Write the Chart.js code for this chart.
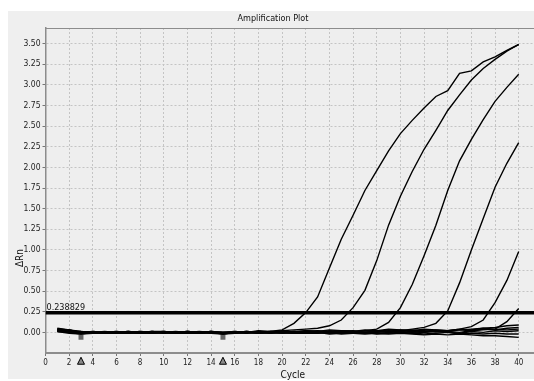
<!DOCTYPE html>
<html>
<head>
<meta charset="utf-8">
<script src="https://cdn.jsdelivr.net/npm/chart.js@4"></script>
<style>
html, body { margin: 0; padding: 0; background: #fff; overflow: hidden; }
#wrap { position: absolute; left: 0; top: 0; width: 548px; height: 381px; }
</style>
</head>
<body>
<div id="wrap"><canvas id="chart_canvas"></canvas></div>
<script>
// cycles 1..40
const cycles = [1,2,3,4,5,6,7,8,9,10,11,12,13,14,15,16,17,18,19,20,
                21,22,23,24,25,26,27,28,29,30,31,32,33,34,35,36,37,38,39,40];

// amplifying wells
const wellA = [0.04,0.03,0.00,-0.01,0.00,0.01,-0.01,0.00,0.01,0.00,-0.01,0.00,0.01,0.00,-0.02,0.00,0.01,0.00,0.01,0.03,
               0.11,0.24,0.43,0.78,1.13,1.42,1.72,1.96,2.20,2.41,2.57,2.72,2.86,2.93,3.14,3.17,3.28,3.34,3.42,3.49];
const wellB = [0.02,0.01,-0.01,0.00,0.01,0.00,0.00,-0.01,0.01,0.01,0.00,-0.01,0.00,0.01,0.00,-0.01,0.00,0.02,0.01,0.02,
               0.03,0.04,0.05,0.08,0.15,0.30,0.51,0.87,1.30,1.65,1.95,2.22,2.45,2.69,2.88,3.06,3.20,3.31,3.41,3.49];
const wellC = [0.03,0.02,0.00,0.00,-0.01,0.00,0.01,0.00,-0.01,0.00,0.01,0.00,-0.01,0.00,0.00,0.01,0.00,-0.01,0.00,0.01,
               0.00,0.01,0.02,0.01,0.02,0.01,0.02,0.04,0.12,0.30,0.58,0.93,1.30,1.72,2.08,2.34,2.58,2.80,2.97,3.13];
const wellD = [0.01,0.00,-0.01,0.01,0.00,-0.01,0.00,0.01,0.00,0.00,-0.01,0.01,0.00,0.00,-0.01,0.00,0.01,0.00,0.00,-0.01,
               0.00,0.01,0.00,0.02,0.01,0.00,0.02,0.01,0.03,0.02,0.04,0.06,0.11,0.26,0.60,1.00,1.38,1.76,2.05,2.30];
const wellE = [0.02,0.01,0.00,-0.01,0.00,0.00,0.01,-0.01,0.00,0.01,0.00,0.00,-0.01,0.01,0.00,0.00,-0.01,0.01,0.00,0.00,
               0.01,0.00,0.01,0.00,0.02,0.01,0.00,0.02,0.01,0.03,0.02,0.01,0.03,0.02,0.04,0.07,0.15,0.36,0.63,0.98];
const wellF = [0.05,0.03,0.01,0.00,-0.01,0.00,0.01,0.00,-0.01,0.00,0.00,0.01,0.00,-0.01,0.00,0.01,0.00,0.00,0.01,0.00,
               -0.01,0.00,0.01,0.00,-0.01,0.01,0.00,0.01,0.00,0.02,0.01,0.00,0.02,0.01,0.03,0.02,0.03,0.04,0.13,0.29];

// flat wells (no amplification)
const wellG = [0.03,0.02,0.01,0.00,0.00,-0.01,0.00,0.01,0.00,-0.01,0.00,0.01,0.00,0.00,-0.01,0.00,0.00,0.01,0.00,0.01,
               0.00,0.02,0.01,0.00,0.01,0.02,0.00,0.01,0.02,0.01,0.03,0.02,0.01,0.02,0.03,0.04,0.05,0.06,0.08,0.09];
const wellH = [0.04,0.02,-0.01,-0.01,0.00,0.00,-0.01,0.00,0.00,0.01,-0.01,0.00,0.00,0.01,-0.02,0.00,0.00,-0.01,0.00,0.00,
               0.01,0.00,-0.01,0.01,0.00,0.00,-0.01,0.01,0.00,0.01,0.00,0.01,0.02,0.01,0.00,0.02,0.04,0.03,0.05,0.06];
const wellI = [0.02,0.00,-0.02,0.00,-0.01,0.00,0.00,-0.01,0.00,0.00,-0.01,0.00,-0.01,0.00,-0.01,-0.01,0.00,0.00,-0.01,0.00,
               -0.01,0.00,0.00,-0.01,0.00,0.01,-0.01,0.00,0.01,0.00,-0.01,0.00,0.01,0.00,-0.01,0.01,0.00,0.02,0.01,0.02];
const wellJ = [0.01,-0.01,-0.02,-0.01,0.00,-0.01,-0.01,0.00,-0.01,0.00,-0.01,-0.01,0.00,-0.01,-0.02,-0.01,0.00,-0.01,0.00,-0.01,
               0.00,-0.01,-0.01,0.00,-0.02,-0.01,0.00,-0.02,-0.01,0.00,-0.01,-0.02,-0.01,0.00,-0.02,-0.01,-0.02,-0.01,-0.02,-0.02];
const wellK = [0.03,0.01,-0.01,0.00,-0.01,-0.01,0.00,-0.01,0.00,-0.01,0.00,-0.01,-0.01,0.00,-0.01,0.00,-0.01,0.00,-0.01,0.00,
               -0.01,-0.01,0.00,-0.02,-0.01,-0.01,-0.02,-0.01,-0.02,-0.01,-0.02,-0.03,-0.02,-0.03,-0.02,-0.03,-0.04,-0.04,-0.05,-0.06];
const wellL = [0.04,0.03,0.00,0.01,0.00,0.01,0.00,0.00,0.01,0.00,0.00,0.01,0.00,0.01,0.00,0.00,0.01,0.00,0.01,0.00,
               0.01,0.02,0.01,0.03,0.02,0.01,0.03,0.02,0.04,0.03,0.02,0.04,0.03,0.02,0.04,0.03,0.05,0.04,0.03,0.04];

const wells = [wellA, wellB, wellC, wellD, wellE, wellF, wellG, wellH, wellI, wellJ, wellK, wellL];

const threshold = 0.238829;
const baselineCycles = [3, 15];      // baseline start / end
const baselineMarkY = [-0.06, -0.06];
const triangleY = [-0.35, -0.35];

const xTickValues = [0,2,4,6,8,10,12,14,16,18,20,22,24,26,28,30,32,34,36,38,40];
const yTickValues = [0,0.25,0.5,0.75,1,1.25,1.5,1.75,2,2.25,2.5,2.75,3,3.25,3.5];

const xMin = 0, xMax = 41.8;
const yMin = -0.25, yMax = 3.69;

const fontFamily = "'Liberation Sans Narrow', 'DejaVu Sans Condensed', 'Liberation Sans', sans-serif";

var datasets = wells.map(function(w)
{
  return {
    data: w,
    borderColor: "#000000",
    borderWidth: 1.4,
    pointRadius: 0,
    tension: 0,
    fill: false
  };
});

datasets.push({
  data: [{x: xMin, y: threshold}, {x: xMax, y: threshold}],
  borderColor: "#000000",
  borderWidth: 3.5,
  pointRadius: 0
});

datasets.push({
  data: baselineCycles.map((c, i) => ({x: c, y: baselineMarkY[i]})),
  showLine: false,
  pointStyle: "rect",
  pointRadius: 3.5,
  backgroundColor: "#666666",
  borderColor: "#666666",
  borderWidth: 0
});

const panelPlugin =
{
  id: "panel",
  beforeDraw(chart)
  {
    const ctx = chart.ctx;
    const a = chart.chartArea;
    ctx.save();
    ctx.fillStyle = "#ffffff";
    ctx.fillRect(0, 0, chart.width, chart.height);
    ctx.fillStyle = "#efefef";
    ctx.fillRect(8, 11, chart.width - 8, chart.height - 13);
    ctx.fillStyle = "#eeeeee";
    ctx.fillRect(a.left, a.top, a.right - a.left, a.bottom - a.top);
    ctx.restore();
  },
  afterDraw(chart)
  {
    const ctx = chart.ctx;
    const a = chart.chartArea;
    const xS = chart.scales.x;
    const yS = chart.scales.y;
    ctx.save();
    // top and right border
    ctx.strokeStyle = "#8c8c8c";
    ctx.lineWidth = 1;
    ctx.beginPath();
    ctx.moveTo(a.left, a.top + 0.5);
    ctx.lineTo(a.right, a.top + 0.5);
    ctx.lineTo(a.right, a.bottom);
    ctx.stroke();

    // baseline range triangles under the axis
    ctx.fillStyle = "#8a8a8a";
    ctx.strokeStyle = "#000000";
    ctx.lineWidth = 1;
    baselineCycles.forEach(function(c, i)
    {
      const px = xS.getPixelForValue(c);
      const py = yS.getPixelForValue(triangleY[i]);
      ctx.beginPath();
      ctx.moveTo(px, py - 4);
      ctx.lineTo(px + 3.5, py + 3);
      ctx.lineTo(px - 3.5, py + 3);
      ctx.closePath();
      ctx.fill();
      ctx.stroke();
    });

    ctx.fillStyle = "#111111";
    ctx.textAlign = "center";
    ctx.textBaseline = "middle";
    ctx.font = "9px " + fontFamily;
    ctx.fillText("Amplification Plot", 273, 19);

    ctx.font = "10px " + fontFamily;
    ctx.fillText("Cycle", (a.left + a.right) / 2, 375);

    ctx.save();
    ctx.translate(20, 258);
    ctx.rotate(-Math.PI / 2);
    ctx.fillText("\u0394Rn", 0, 0);
    ctx.restore();

    ctx.textAlign = "left";
    ctx.textBaseline = "alphabetic";
    ctx.font = "9px " + fontFamily;
    ctx.fillText(threshold.toFixed(6), a.left + 1, yS.getPixelForValue(threshold) - 3);
    ctx.restore();
  }
};

const config =
{
  type: "line",
  data: { labels: cycles, datasets: datasets },
  options:
  {
    responsive: true,
    maintainAspectRatio: false,
    animation: false,
    layout: { padding: { top: 28, right: 8, left: 0, bottom: 0 } },
    plugins:
    {
      legend: { display: false },
      tooltip: { enabled: false }
    },
    scales:
    {
      x:
      {
        type: "linear",
        min: xMin,
        max: xMax,
        afterBuildTicks: (s) => { s.ticks = xTickValues.map(v => ({value: v})); },
        afterFit: (s) => { s.height = 28; },
        grid: { color: "#c4c4c4", tickColor: "#777777", tickLength: 3 },
        border: { display: true, color: "#8c8c8c", width: 2, dash: [2, 2] },
        ticks:
        {
          color: "#222222",
          padding: 2,
          maxRotation: 0,
          autoSkip: false,
          font: { family: fontFamily, size: 8 },
          callback: (v) => String(v)
        }
      },
      y:
      {
        min: yMin,
        max: yMax,
        afterBuildTicks: (s) => { s.ticks = yTickValues.map(v => ({value: v})); },
        afterFit: (s) => { s.width = 45.5; },
        grid: { color: "#c4c4c4", tickColor: "#777777", tickLength: 3 },
        border: { display: true, color: "#8c8c8c", width: 1.5, dash: [2, 2] },
        ticks:
        {
          color: "#222222",
          padding: 2,
          autoSkip: false,
          font: { family: fontFamily, size: 8.5 },
          callback: (v) => Number(v).toFixed(2)
        }
      }
    }
  },
  plugins: [panelPlugin]
};

var chart = new Chart(document.getElementById("chart_canvas"), config);
</script>
</body>
</html>
